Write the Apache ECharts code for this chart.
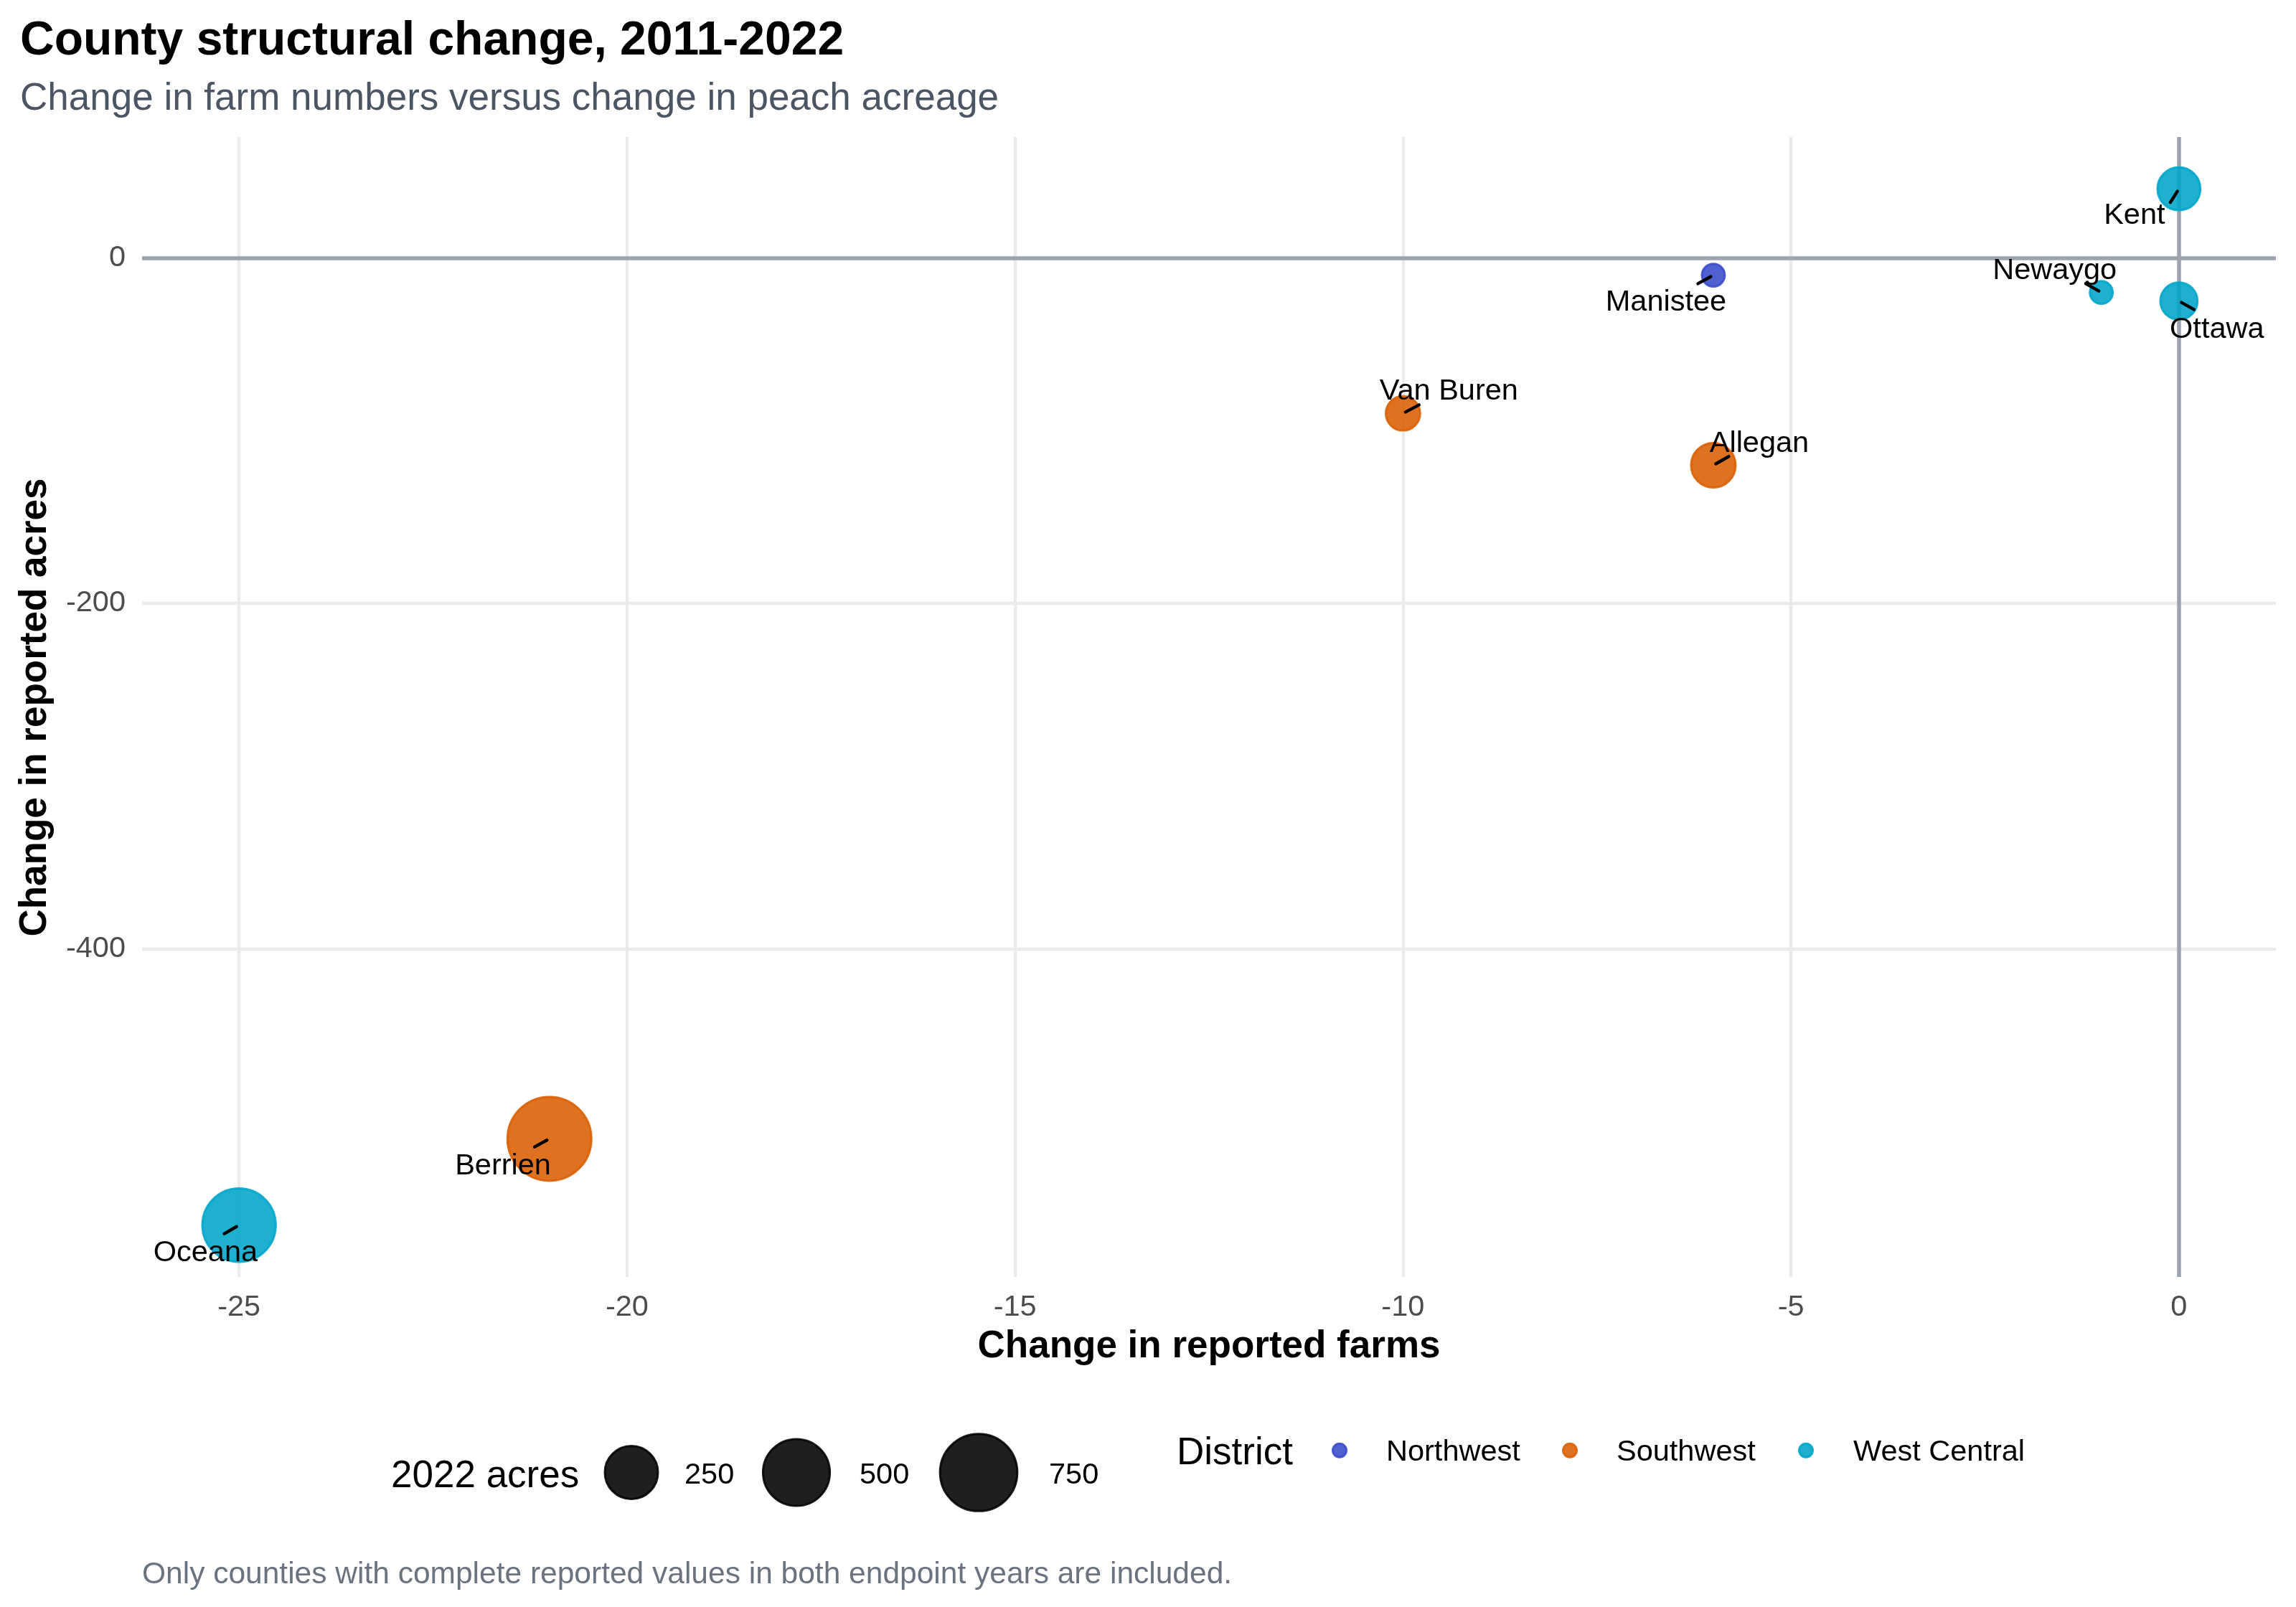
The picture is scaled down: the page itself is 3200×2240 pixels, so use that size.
<!DOCTYPE html>
<html>
<head>
<meta charset="utf-8">
<script src="https://cdn.jsdelivr.net/npm/echarts@6/dist/echarts.min.js"></script>
<style>
html, body { margin: 0; padding: 0; background: #fff; }
#main { width: 3200px; height: 2240px; }
</style>
</head>
<body>
<div id="main"></div>
<script>
// county values
var counties   = ['Kent', 'Newaygo', 'Ottawa', 'Manistee', 'Allegan', 'Van Buren', 'Berrien', 'Oceana'];
var districtOf = ['West Central', 'West Central', 'West Central', 'Northwest', 'Southwest', 'Southwest', 'Southwest', 'West Central'];
var farmChange = [0, -1, 0, -6, -6, -10, -21, -25];
var acreChange = [40, -20, -25, -10, -120, -90, -510, -560];
var acres2022  = [124, 26, 76, 26, 141, 58, 938, 651];

var districts  = ['Northwest', 'Southwest', 'West Central'];
var xTicks     = [-25, -20, -15, -10, -5, 0];
var yTicks     = [-400, -200, 0];
var sizeBreaks = [250, 500, 750];

var FONT = '"Liberation Sans", Arial, Helvetica, sans-serif';
var colors = { 'Northwest': '#384AC9', 'Southwest': '#D95F02', 'West Central': '#00A5CA' };
var ALPHA = 0.88;

// bubble diameter, area-style scaling between smallest and largest county
var aMin = Math.min.apply(null, acres2022), aMax = Math.max.apply(null, acres2022);
function bubble(v) {
    var t = Math.max(0, (v - aMin) / (aMax - aMin));
    return 34.8 + 85.2 * Math.sqrt(t);
}

// canvas 'middle' sits a little above the cap centre, nudge down
function midY(y, fs) { return y + 0.09 * fs; }

// repel-style label nudges in pixels: label dx, dy, segment end dx, dy
var labelNudge = {
    'Kent':      [-62, 34, -12, 19],
    'Newaygo':   [-65, -33.5, -21.7, -12.3],
    'Ottawa':    [53, 36, 21, 11.7],
    'Manistee':  [-66, 34.5, -21.5, 11.8],
    'Allegan':   [64, -34, 21.5, -12.2],
    'Van Buren': [64, -34, 22.4, -11.8],
    'Berrien':   [-64.7, 34.5, -20.7, 11.2],
    'Oceana':    [-46.8, 34.8, -20.6, 11.8]
};

var pointSeries = districts.map(function (d) {
    var rows = [];
    counties.forEach(function (c, i) {
        if (districtOf[i] === d) rows.push([farmChange[i], acreChange[i], acres2022[i], c]);
    });
    return {
        type: 'scatter',
        name: d,
        data: rows,
        z: 3,
        symbol: 'circle',
        symbolSize: function (v) { return bubble(v[2]) - 3; },
        itemStyle: { color: colors[d], borderColor: colors[d], borderWidth: 3, opacity: ALPHA },
        emphasis: { disabled: true }
    };
});

var zeroSeries = {
    type: 'scatter',
    name: 'zero',
    data: [],
    silent: true,
    markLine: {
        silent: true,
        z: 1,
        symbol: ['none', 'none'],
        label: { show: false },
        lineStyle: { color: '#9CA3AF', width: 5.5, type: 'solid' },
        emphasis: { disabled: true },
        data: [{ yAxis: 0 }, { xAxis: 0 }]
    }
};

var labelSeries = {
    type: 'custom',
    name: 'labels',
    z: 10,
    clip: false,
    silent: true,
    data: counties.map(function (c, i) { return [farmChange[i], acreChange[i]]; }),
    renderItem: function (params, api) {
        var p = api.coord([api.value(0), api.value(1)]);
        var name = counties[params.dataIndex];
        var o = labelNudge[name];
        var len = Math.sqrt(o[2] * o[2] + o[3] * o[3]);
        return {
            type: 'group',
            children: [{
                type: 'line',
                shape: { x1: p[0] + o[2] / len * 4, y1: p[1] + o[3] / len * 4, x2: p[0] + o[2], y2: p[1] + o[3] },
                style: { stroke: '#000', lineWidth: 4.4, lineCap: 'round' }
            }, {
                type: 'text',
                x: p[0] + o[0],
                y: midY(p[1] + o[1], 41.5),
                style: { text: name, fill: '#000', fontSize: 41.5, fontFamily: FONT, align: 'center', verticalAlign: 'middle' }
            }]
        };
    }
};

function txt(x, y, s, fs, extra) {
    var st = { text: s, fill: '#000', fontSize: fs, fontFamily: FONT, verticalAlign: 'middle' };
    for (var k in extra) st[k] = extra[k];
    return { type: 'text', x: x, y: midY(y, fs), style: st };
}

// legends and annotation text
var graphics = [
    txt(28, 51.5, 'County structural change, 2011-2022', 66, { fontWeight: 'bold' }),
    txt(28, 134, 'Change in farm numbers versus change in peach acreage', 53, { fill: '#4B5563' }),
    txt(1685, 1873, 'Change in reported farms', 53, { fontWeight: 'bold', align: 'center' }),
    txt(198, 2191, 'Only counties with complete reported values in both endpoint years are included.', 42.5, { fill: '#6B7280' }),
    txt(545, 2053.5, '2022 acres', 53, {}),
    txt(1640, 2021.7, 'District', 53, {}),
    { type: 'text', x: 45 + 0.09 * 53, y: 986, rotation: Math.PI / 2,
      style: { text: 'Change in reported acres', fill: '#000', fontSize: 53, fontWeight: 'bold', fontFamily: FONT, align: 'center', verticalAlign: 'middle' } }
];

var sizeKeyX = [880, 1110, 1364];
var sizeLabelX = [954, 1198, 1462];
sizeBreaks.forEach(function (v, i) {
    graphics.push({ type: 'circle', shape: { cx: sizeKeyX[i], cy: 2052.5, r: (bubble(v) - 3) / 2 },
        style: { fill: '#000', stroke: '#000', lineWidth: 3, opacity: ALPHA } });
    graphics.push(txt(sizeLabelX[i], 2053, String(v), 41.5, {}));
});

var distKeyX = [1867, 2188, 2517];
var distLabelX = [1932, 2253, 2583];
districts.forEach(function (d, i) {
    graphics.push({ type: 'circle', shape: { cx: distKeyX[i], cy: 2021.7, r: 9.5 },
        style: { fill: colors[d], stroke: colors[d], lineWidth: 3, opacity: ALPHA } });
    graphics.push(txt(distLabelX[i], 2021, d, 41.5, {}));
});

var chart = echarts.init(document.getElementById('main'), null, { renderer: 'canvas' });
chart.setOption({
    backgroundColor: '#ffffff',
    animation: false,
    textStyle: { fontFamily: FONT },
    grid: { left: 198, top: 191, width: 2974, height: 1589, containLabel: false, outerBoundsMode: 'none' },
    xAxis: {
        type: 'value',
        min: -26.25,
        max: 1.25,
        axisLine: { show: false },
        axisTick: { show: false, customValues: xTicks },
        axisLabel: { customValues: xTicks, fontSize: 41.5, color: '#4D4D4D', margin: 22, fontFamily: FONT },
        splitLine: { show: true, lineStyle: { color: '#EBEBEB', width: 4.4 } }
    },
    yAxis: {
        type: 'value',
        min: -590,
        max: 70,
        axisLine: { show: false },
        axisTick: { show: false, customValues: yTicks },
        axisLabel: { customValues: yTicks, fontSize: 41.5, color: '#4D4D4D', margin: 23, fontFamily: FONT },
        splitLine: { show: true, lineStyle: { color: '#EBEBEB', width: 4.4 } }
    },
    series: [zeroSeries].concat(pointSeries).concat([labelSeries]),
    graphic: graphics
});
</script>
</body>
</html>
